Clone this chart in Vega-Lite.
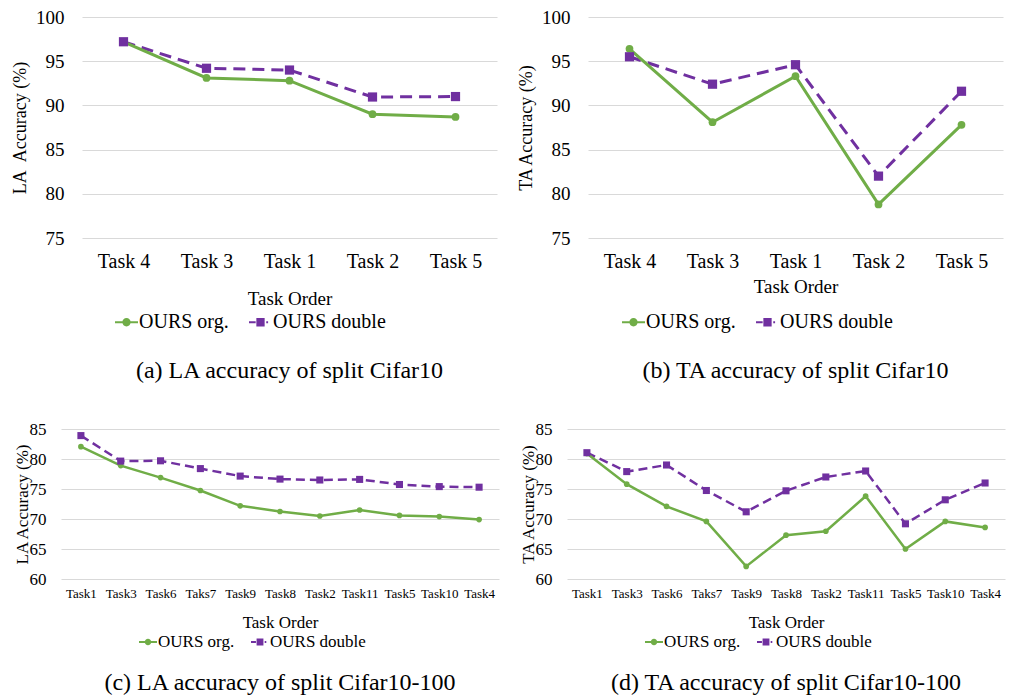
{
  "$schema": "https://vega.github.io/schema/vega-lite/v6.json",
  "background": "white",
  "padding": {"left": 11, "top": 8, "right": 0, "bottom": 0},
  "config": {
    "view": {"stroke": null},
    "font": "Liberation Serif",
    "axis": {"domain": false, "ticks": false, "tickSize": 0, "gridColor": "#D9D9D9", "gridWidth": 1, "labelColor": "#000", "titleColor": "#000", "titleFontWeight": "normal", "labelFont": "Liberation Serif", "titleFont": "Liberation Serif", "labelOverlap": false},
    "axisX": {"grid": false, "labelAngle": 0},
    "title": {"font": "Liberation Serif", "fontWeight": "normal", "color": "#000", "fontSize": 24, "orient": "bottom", "frame": "group", "anchor": "middle"},
    "legend": {"title": null, "orient": "none", "direction": "horizontal", "padding": 0, "labelFont": "Liberation Serif", "labelColor": "#000", "labelOffset": 1, "symbolOpacity": 1, "symbolStrokeWidth": 0}
  },
  "datasets": {
    "a": [
      {"task": "Task 4", "series": "OURS org.", "value": 97.2}, {"task": "Task 4", "series": "OURS double", "value": 97.2},
      {"task": "Task 3", "series": "OURS org.", "value": 93.1}, {"task": "Task 3", "series": "OURS double", "value": 94.2},
      {"task": "Task 1", "series": "OURS org.", "value": 92.8}, {"task": "Task 1", "series": "OURS double", "value": 94.0},
      {"task": "Task 2", "series": "OURS org.", "value": 89.0}, {"task": "Task 2", "series": "OURS double", "value": 90.95},
      {"task": "Task 5", "series": "OURS org.", "value": 88.7}, {"task": "Task 5", "series": "OURS double", "value": 91.0}
    ],
    "b": [
      {"task": "Task 4", "series": "OURS org.", "value": 96.4}, {"task": "Task 4", "series": "OURS double", "value": 95.5},
      {"task": "Task 3", "series": "OURS org.", "value": 88.1}, {"task": "Task 3", "series": "OURS double", "value": 92.4},
      {"task": "Task 1", "series": "OURS org.", "value": 93.3}, {"task": "Task 1", "series": "OURS double", "value": 94.6},
      {"task": "Task 2", "series": "OURS org.", "value": 78.8}, {"task": "Task 2", "series": "OURS double", "value": 82.0},
      {"task": "Task 5", "series": "OURS org.", "value": 87.8}, {"task": "Task 5", "series": "OURS double", "value": 91.6}
    ],
    "c": [
      {"task": "Task1", "series": "OURS org.", "value": 82.05}, {"task": "Task1", "series": "OURS double", "value": 83.9},
      {"task": "Task3", "series": "OURS org.", "value": 78.9}, {"task": "Task3", "series": "OURS double", "value": 79.65},
      {"task": "Task6", "series": "OURS org.", "value": 76.9}, {"task": "Task6", "series": "OURS double", "value": 79.7},
      {"task": "Taks7", "series": "OURS org.", "value": 74.75}, {"task": "Taks7", "series": "OURS double", "value": 78.4},
      {"task": "Task9", "series": "OURS org.", "value": 72.2}, {"task": "Task9", "series": "OURS double", "value": 77.15},
      {"task": "Task8", "series": "OURS org.", "value": 71.25}, {"task": "Task8", "series": "OURS double", "value": 76.65},
      {"task": "Task2", "series": "OURS org.", "value": 70.5}, {"task": "Task2", "series": "OURS double", "value": 76.5},
      {"task": "Task11", "series": "OURS org.", "value": 71.5}, {"task": "Task11", "series": "OURS double", "value": 76.6},
      {"task": "Task5", "series": "OURS org.", "value": 70.6}, {"task": "Task5", "series": "OURS double", "value": 75.75},
      {"task": "Task10", "series": "OURS org.", "value": 70.4}, {"task": "Task10", "series": "OURS double", "value": 75.4},
      {"task": "Task4", "series": "OURS org.", "value": 69.9}, {"task": "Task4", "series": "OURS double", "value": 75.3}
    ],
    "d": [
      {"task": "Task1", "series": "OURS org.", "value": 80.9}, {"task": "Task1", "series": "OURS double", "value": 81.05},
      {"task": "Task3", "series": "OURS org.", "value": 75.8}, {"task": "Task3", "series": "OURS double", "value": 77.9},
      {"task": "Task6", "series": "OURS org.", "value": 72.1}, {"task": "Task6", "series": "OURS double", "value": 79.0},
      {"task": "Taks7", "series": "OURS org.", "value": 69.6}, {"task": "Taks7", "series": "OURS double", "value": 74.75},
      {"task": "Task9", "series": "OURS org.", "value": 62.1}, {"task": "Task9", "series": "OURS double", "value": 71.2},
      {"task": "Task8", "series": "OURS org.", "value": 67.3}, {"task": "Task8", "series": "OURS double", "value": 74.7},
      {"task": "Task2", "series": "OURS org.", "value": 67.96}, {"task": "Task2", "series": "OURS double", "value": 77.0},
      {"task": "Task11", "series": "OURS org.", "value": 73.8}, {"task": "Task11", "series": "OURS double", "value": 78.0},
      {"task": "Task5", "series": "OURS org.", "value": 65.0}, {"task": "Task5", "series": "OURS double", "value": 69.2},
      {"task": "Task10", "series": "OURS org.", "value": 69.6}, {"task": "Task10", "series": "OURS double", "value": 73.2},
      {"task": "Task4", "series": "OURS org.", "value": 68.6}, {"task": "Task4", "series": "OURS double", "value": 76.0}
    ]
  },
  "resolve": {"scale": {"color": "independent", "shape": "independent"}, "legend": {"color": "independent", "shape": "independent"}},
  "center": true,
  "spacing": 37,
  "vconcat": [
    {
      "spacing": 20,
      "resolve": {"scale": {"color": "independent", "shape": "independent"}, "legend": {"color": "independent", "shape": "independent"}},
      "hconcat": [
        {
          "width": 415, "height": 221,
          "data": {"name": "a"},
          "title": {"text": "(a) LA accuracy of split Cifar10", "offset": 26},
          "encoding": {
            "x": {"field": "task", "type": "nominal", "sort": null, "axis": {"title": "Task Order", "labelFontSize": 20, "titleFontSize": 19, "labelPadding": 13, "titlePadding": 18}},
            "y": {"field": "value", "type": "quantitative", "scale": {"domain": [75, 100], "nice": false, "zero": false}, "axis": {"title": "LA\u00a0 Accuracy (%)", "values": [75, 80, 85, 90, 95, 100], "labelFontSize": 19, "titleFontSize": 18, "labelPadding": 18, "titlePadding": 6}}
          },
          "layer": [
            {"transform": [{"filter": "datum.series === 'OURS double'"}], "mark": {"type": "line", "strokeWidth": 3, "color": "#7030A0", "strokeDash": [12, 7]}},
            {"transform": [{"filter": "datum.series === 'OURS org.'"}], "mark": {"type": "line", "strokeWidth": 3, "color": "#70AD47"}},
            {"transform": [{"filter": "datum.series === 'OURS org.'"}], "mark": {"type": "point", "shape": "circle", "filled": true, "opacity": 1, "size": 60, "color": "#70AD47"}},
            {"transform": [{"filter": "datum.series === 'OURS double'"}], "mark": {"type": "point", "shape": "square", "filled": true, "opacity": 1, "size": 85, "color": "#7030A0"}},
            {"mark": {"type": "point", "filled": true, "opacity": 0},
             "encoding": {
               "color": {"field": "series", "type": "nominal", "scale": {"domain": ["OURS org.", "OURS double"], "range": ["#70AD47", "#7030A0"]}, "legend": {"legendX": 33, "legendY": 293.5, "symbolSize": 529, "labelFontSize": 20, "columnPadding": 20}},
               "shape": {"field": "series", "type": "nominal", "scale": {"domain": ["OURS org.", "OURS double"], "range": ["M-1,-0.09H-0.34V0.09H-1ZM0.34,-0.09H1V0.09H0.34ZM-0.36,0A0.36,0.36,0,1,1,0.36,0A0.36,0.36,0,1,1,-0.36,0Z", "M-1,-0.09H-0.42V0.09H-1ZM-0.36,-0.36H0.36V0.36H-0.36ZM0.5,-0.09H0.66V0.09H0.5Z"]},
                 "legend": {"legendX": 33, "legendY": 293.5, "symbolSize": 529, "labelFontSize": 20, "columnPadding": 20}}}}
          ]
        },
        {
          "width": 415, "height": 221,
          "data": {"name": "b"},
          "title": {"text": "(b) TA accuracy of split Cifar10", "offset": 26},
          "encoding": {
            "x": {"field": "task", "type": "nominal", "sort": null, "axis": {"title": "Task Order", "labelFontSize": 20, "titleFontSize": 19, "labelPadding": 13, "titlePadding": 6}},
            "y": {"field": "value", "type": "quantitative", "scale": {"domain": [75, 100], "nice": false, "zero": false}, "axis": {"title": "TA Accuracy (%)", "values": [75, 80, 85, 90, 95, 100], "labelFontSize": 19, "titleFontSize": 18, "labelPadding": 18, "titlePadding": 6}}
          },
          "layer": [
            {"transform": [{"filter": "datum.series === 'OURS double'"}], "mark": {"type": "line", "strokeWidth": 3, "color": "#7030A0", "strokeDash": [12, 7]}},
            {"transform": [{"filter": "datum.series === 'OURS org.'"}], "mark": {"type": "line", "strokeWidth": 3, "color": "#70AD47"}},
            {"transform": [{"filter": "datum.series === 'OURS org.'"}], "mark": {"type": "point", "shape": "circle", "filled": true, "opacity": 1, "size": 60, "color": "#70AD47"}},
            {"transform": [{"filter": "datum.series === 'OURS double'"}], "mark": {"type": "point", "shape": "square", "filled": true, "opacity": 1, "size": 85, "color": "#7030A0"}},
            {"mark": {"type": "point", "filled": true, "opacity": 0},
             "encoding": {
               "color": {"field": "series", "type": "nominal", "scale": {"domain": ["OURS org.", "OURS double"], "range": ["#70AD47", "#7030A0"]}, "legend": {"legendX": 34, "legendY": 293.5, "symbolSize": 529, "labelFontSize": 20, "columnPadding": 20}},
               "shape": {"field": "series", "type": "nominal", "scale": {"domain": ["OURS org.", "OURS double"], "range": ["M-1,-0.09H-0.34V0.09H-1ZM0.34,-0.09H1V0.09H0.34ZM-0.36,0A0.36,0.36,0,1,1,0.36,0A0.36,0.36,0,1,1,-0.36,0Z", "M-1,-0.09H-0.42V0.09H-1ZM-0.36,-0.36H0.36V0.36H-0.36ZM0.5,-0.09H0.66V0.09H0.5Z"]},
                 "legend": {"legendX": 34, "legendY": 293.5, "symbolSize": 529, "labelFontSize": 20, "columnPadding": 20}}}}
          ]
        }
      ]
    },
    {
      "spacing": 19,
      "resolve": {"scale": {"color": "independent", "shape": "independent"}, "legend": {"color": "independent", "shape": "independent"}},
      "hconcat": [
        {
          "width": 438, "height": 150,
          "data": {"name": "c"},
          "title": {"text": "(c) LA accuracy of split Cifar10-100", "offset": 21},
          "encoding": {
            "x": {"field": "task", "type": "nominal", "sort": null, "axis": {"title": "Task Order", "labelFontSize": 13, "titleFontSize": 17, "labelPadding": 8, "titlePadding": 14}},
            "y": {"field": "value", "type": "quantitative", "scale": {"domain": [60, 85], "nice": false, "zero": false}, "axis": {"title": "LA Accuracy (%)", "values": [60, 65, 70, 75, 80, 85], "labelFontSize": 17, "titleFontSize": 17, "labelPadding": 15, "titlePadding": -2}}
          },
          "layer": [
            {"transform": [{"filter": "datum.series === 'OURS double'"}], "mark": {"type": "line", "strokeWidth": 2.5, "color": "#7030A0", "strokeDash": [9, 5]}},
            {"transform": [{"filter": "datum.series === 'OURS org.'"}], "mark": {"type": "line", "strokeWidth": 2.5, "color": "#70AD47"}},
            {"transform": [{"filter": "datum.series === 'OURS org.'"}], "mark": {"type": "point", "shape": "circle", "filled": true, "opacity": 1, "size": 32, "color": "#70AD47"}},
            {"transform": [{"filter": "datum.series === 'OURS double'"}], "mark": {"type": "point", "shape": "square", "filled": true, "opacity": 1, "size": 50, "color": "#7030A0"}},
            {"mark": {"type": "point", "filled": true, "opacity": 0},
             "encoding": {
               "color": {"field": "series", "type": "nominal", "scale": {"domain": ["OURS org.", "OURS double"], "range": ["#70AD47", "#7030A0"]}, "legend": {"legendX": 78, "legendY": 204, "symbolSize": 324, "labelFontSize": 17, "columnPadding": 16}},
               "shape": {"field": "series", "type": "nominal", "scale": {"domain": ["OURS org.", "OURS double"], "range": ["M-1,-0.11H-0.34V0.11H-1ZM0.34,-0.11H1V0.11H0.34ZM-0.36,0A0.36,0.36,0,1,1,0.36,0A0.36,0.36,0,1,1,-0.36,0Z", "M-1,-0.11H-0.45V0.11H-1ZM-0.38,-0.38H0.38V0.38H-0.38ZM0.52,-0.11H0.7V0.11H0.52Z"]},
                 "legend": {"legendX": 78, "legendY": 204, "symbolSize": 324, "labelFontSize": 17, "columnPadding": 16}}}}
          ]
        },
        {
          "width": 438, "height": 150,
          "data": {"name": "d"},
          "title": {"text": "(d) TA accuracy of split Cifar10-100", "offset": 21},
          "encoding": {
            "x": {"field": "task", "type": "nominal", "sort": null, "axis": {"title": "Task Order", "labelFontSize": 13, "titleFontSize": 17, "labelPadding": 8, "titlePadding": 14}}
          },
          "resolve": {"scale": {"y": "independent"}, "axis": {"y": "independent"}},
          "layer": [
            {
              "encoding": {
                "y": {"field": "value", "type": "quantitative", "scale": {"domain": [60, 85], "nice": false, "zero": false}, "axis": {"title": "TA Accuracy (%)", "values": [60, 65, 70, 75, 80, 85], "labelFontSize": 17, "titleFontSize": 17, "labelPadding": 15, "titlePadding": -2}}
              },
              "layer": [
                {"transform": [{"filter": "datum.series === 'OURS double'"}], "mark": {"type": "line", "strokeWidth": 2.5, "color": "#7030A0", "strokeDash": [9, 5]}},
                {"transform": [{"filter": "datum.series === 'OURS org.'"}], "mark": {"type": "line", "strokeWidth": 2.5, "color": "#70AD47"}},
                {"transform": [{"filter": "datum.series === 'OURS org.'"}], "mark": {"type": "point", "shape": "circle", "filled": true, "opacity": 1, "size": 32, "color": "#70AD47"}},
                {"transform": [{"filter": "datum.series === 'OURS double'"}], "mark": {"type": "point", "shape": "square", "filled": true, "opacity": 1, "size": 50, "color": "#7030A0"}},
                {"mark": {"type": "point", "filled": true, "opacity": 0},
                 "encoding": {
                   "color": {"field": "series", "type": "nominal", "scale": {"domain": ["OURS org.", "OURS double"], "range": ["#70AD47", "#7030A0"]}, "legend": {"legendX": 78, "legendY": 204, "symbolSize": 324, "labelFontSize": 17, "columnPadding": 16}},
                   "shape": {"field": "series", "type": "nominal", "scale": {"domain": ["OURS org.", "OURS double"], "range": ["M-1,-0.11H-0.34V0.11H-1ZM0.34,-0.11H1V0.11H0.34ZM-0.36,0A0.36,0.36,0,1,1,0.36,0A0.36,0.36,0,1,1,-0.36,0Z", "M-1,-0.11H-0.45V0.11H-1ZM-0.38,-0.38H0.38V0.38H-0.38ZM0.52,-0.11H0.7V0.11H0.52Z"]},
                     "legend": {"legendX": 78, "legendY": 204, "symbolSize": 324, "labelFontSize": 17, "columnPadding": 16}}}}
              ]
            },
            {
              "mark": {"type": "point", "opacity": 0},
              "encoding": {
                "y": {"field": "value", "type": "quantitative", "scale": {"domain": [60, 85], "nice": false, "zero": false}, "axis": {"orient": "right", "labels": false, "grid": false, "title": " ", "titleColor": "transparent", "titleFontSize": 17, "titlePadding": 1}}
              }
            }
          ]
        }
      ]
    }
  ]
}
